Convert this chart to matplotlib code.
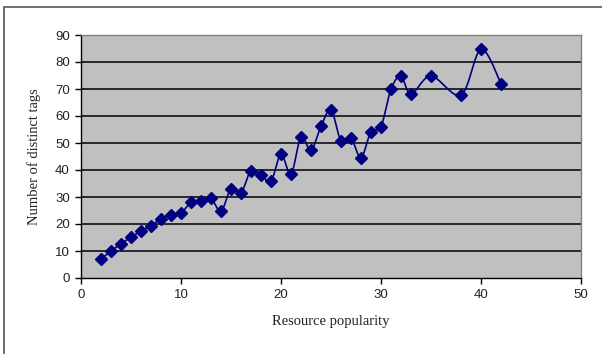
import numpy as np
import matplotlib
matplotlib.use("Agg")
import matplotlib.pyplot as plt
from matplotlib.patches import Rectangle

popularity = [2, 3, 4, 5, 6, 7, 8, 9, 10, 11, 12, 13, 14, 15, 16, 17, 18, 19, 20, 21,
              22, 23, 24, 25, 26, 27, 28, 29, 30, 31, 32, 33, 35, 38, 40, 42]
distinct_tags = [7, 10, 12.7, 15.1, 17.3, 19.4, 21.9, 23.5, 24.1, 28, 28.4, 29.5, 24.7,
                 33.1, 31.5, 39.8, 38.1, 35.9, 45.8, 38.5, 52.2, 47.3, 56.2, 62.2, 50.8,
                 51.8, 44.6, 54.2, 56.1, 69.9, 74.8, 68.1, 74.8, 67.8, 84.7, 72]
x_ticks = [0, 10, 20, 30, 40, 50]
y_ticks = [0, 10, 20, 30, 40, 50, 60, 70, 80, 90]


def smooth(xs, ys, n=20):
    # Excel-style smoothed line (Bezier through the points)
    xs = np.asarray(xs, float)
    ys = np.asarray(ys, float)
    px = np.concatenate([[xs[0]], xs, [xs[-1]]])
    py = np.concatenate([[ys[0]], ys, [ys[-1]]])
    ox, oy = [], []
    t = np.linspace(0, 1, n)
    for i in range(1, len(px) - 2):
        p0 = np.array([px[i], py[i]])
        p3 = np.array([px[i + 1], py[i + 1]])
        c1 = p0 + (np.array([px[i + 1], py[i + 1]]) - np.array([px[i - 1], py[i - 1]])) / 6
        c2 = p3 - (np.array([px[i + 2], py[i + 2]]) - np.array([px[i], py[i]])) / 6
        b = ((1 - t) ** 3)[:, None] * p0 + (3 * (1 - t) ** 2 * t)[:, None] * c1 \
            + (3 * (1 - t) * t ** 2)[:, None] * c2 + (t ** 3)[:, None] * p3
        ox.extend(b[:, 0])
        oy.extend(b[:, 1])
    return ox, oy


fig = plt.figure(figsize=(6.02, 3.54), dpi=100)
fig.patches.append(Rectangle((4 / 602, -0.1), 1.2, 1 - 7 / 354 + 0.1,
                             transform=fig.transFigure, fill=False,
                             edgecolor="#555555", linewidth=1.2))

ax = fig.add_axes([81 / 602, 1 - 278 / 354, 500 / 602, 243 / 354])
ax.set_facecolor("#c0c0c0")
ax.set_xlim(0, 50)
ax.set_ylim(0, 90)
ax.set_xticks(x_ticks)
ax.set_yticks(y_ticks)
for y in y_ticks[1:-1]:
    ax.axhline(y, color="black", linewidth=1.1, zorder=1)

sx, sy = smooth(popularity, distinct_tags)
ax.plot(sx, sy, color="#000080", linewidth=1.2, zorder=3)
ax.plot(popularity, distinct_tags, linestyle="none", marker="D", markersize=6,
        color="#000080", zorder=4)

for s in ["top", "right"]:
    ax.spines[s].set_color("#808080")
    ax.spines[s].set_linewidth(1.0)
for s in ["left", "bottom"]:
    ax.spines[s].set_color("black")
    ax.spines[s].set_linewidth(1.0)

ax.tick_params(direction="out", length=4, width=1, color="black",
               labelsize=9.5, pad=4, labelcolor="#222222")
for lab in ax.get_xticklabels() + ax.get_yticklabels():
    lab.set_family("Liberation Sans")

ax.set_xlabel("Resource popularity", family="Liberation Serif", fontsize=10.5,
              labelpad=10, color="#222222")
ax.set_ylabel("Number of distinct tags", family="Liberation Serif", fontsize=10.5,
              labelpad=10, color="#222222")

fig.savefig("out.png", dpi=100)
